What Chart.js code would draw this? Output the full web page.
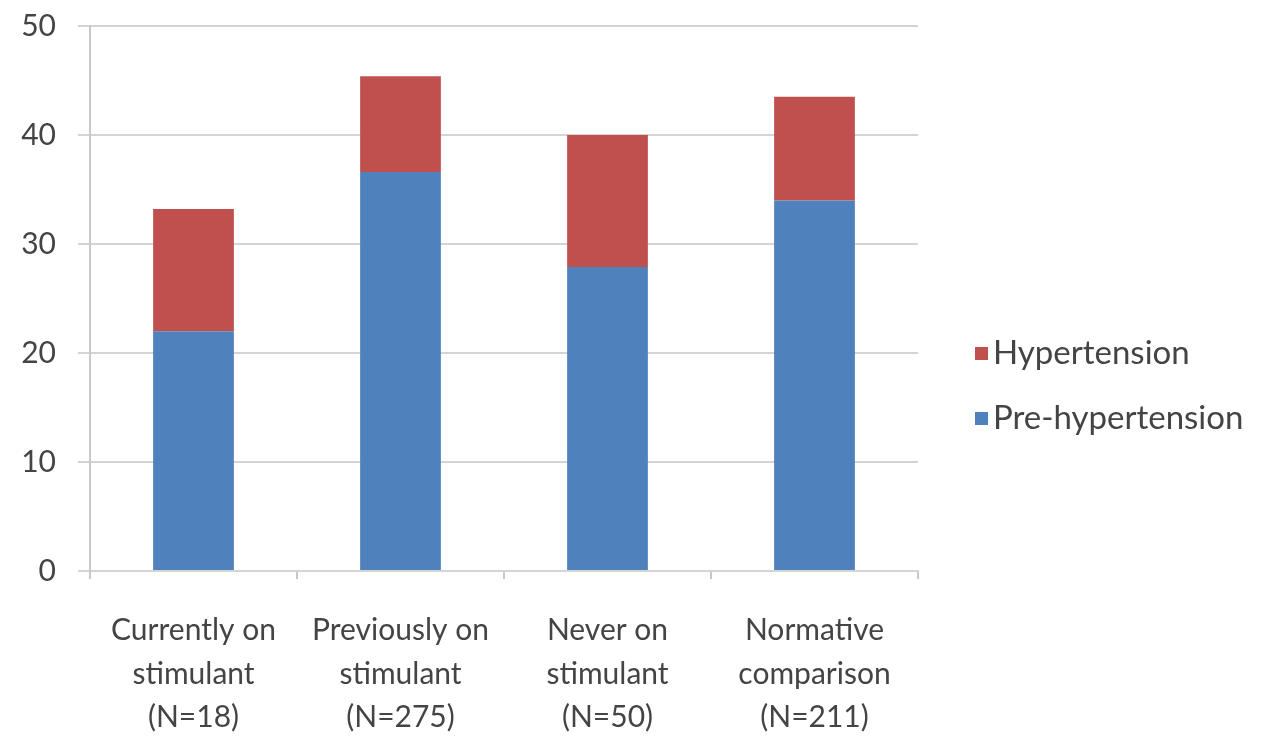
<!DOCTYPE html>
<html>
<head>
<meta charset="utf-8">
<script src="https://cdn.jsdelivr.net/npm/chart.js@4"></script>
<style>
  html, body { margin: 0; padding: 0; background: #fff; }
  #wrap { width: 1265px; height: 739px; }
</style>
</head>
<body>
<div id="wrap"><canvas id="bpChart"></canvas></div>
<script>
// --- Data ---
const categories = [
  ["Currently on", "stimulant", "(N=18)"],
  ["Previously on", "stimulant", "(N=275)"],
  ["Never on", "stimulant", "(N=50)"],
  ["Normative", "comparison", "(N=211)"],
];
const preHypertension = [22, 36.6, 27.9, 34];
const hypertension = [11.2, 8.8, 12.1, 9.5];
const yTicks = [0, 10, 20, 30, 40, 50];

const textColor = "#444444";
const gridColor = "#d4d4d4";

// legend drawn to the right of the plot, top entry first (like Excel)
const sideLegend = {
  id: "sideLegend",
  afterDraw(chart) {
    const ctx = chart.ctx;
    const items = chart.data.datasets.slice().reverse();
    const left = chart.chartArea.right + 57;
    ctx.save();
    ctx.font = "33px Lato";
    ctx.textBaseline = "middle";
    items.forEach((ds, i) => {
      const y = 353 + i * 65;
      ctx.fillStyle = ds.backgroundColor;
      ctx.fillRect(left, y - 6, 13, 13);
      ctx.fillStyle = textColor;
      ctx.fillText(ds.label, left + 18, y);
    });
    ctx.restore();
  },
};

new Chart(document.getElementById("bpChart"), {
  type: "bar",
  data: {
    labels: categories,
    datasets: [
      {
        label: "Pre-hypertension",
        data: preHypertension,
        backgroundColor: "#4F81BD",
        categoryPercentage: 1,
        barPercentage: 0.39,
      },
      {
        label: "Hypertension",
        data: hypertension,
        backgroundColor: "#C0504D",
        categoryPercentage: 1,
        barPercentage: 0.39,
      },
    ],
  },
  plugins: [sideLegend],
  options: {
    responsive: true,
    maintainAspectRatio: false,
    animation: false,
    layout: { padding: { top: 0, right: 347, left: 0, bottom: 0 } },
    plugins: {
      legend: { display: false },
      tooltip: { enabled: false },
    },
    scales: {
      x: {
        stacked: true,
        grid: {
          offset: true,
          drawOnChartArea: false,
          drawTicks: true,
          tickLength: 8,
          color: "#c8c8c8",
          lineWidth: 2,
        },
        border: { color: gridColor, width: 2 },
        ticks: {
          color: textColor,
          font: { family: "Lato", size: 30, lineHeight: 1.45 },
          padding: 30,
          maxRotation: 0,
        },
        afterFit: (axis) => {
          axis.height = 168;
        },
      },
      y: {
        stacked: true,
        min: 0,
        max: 50,
        afterBuildTicks: (axis) => {
          axis.ticks = yTicks.map((v) => ({ value: v }));
        },
        grid: {
          color: gridColor,
          lineWidth: 2,
          tickLength: 12,
        },
        border: { color: "#c8c8c8", width: 2 },
        ticks: {
          color: textColor,
          font: { family: "Lato", size: 30 },
          padding: 22,
        },
        afterFit: (axis) => {
          axis.width = 90;
          axis.paddingTop = 26;
        },
      },
    },
  },
});
</script>
</body>
</html>
